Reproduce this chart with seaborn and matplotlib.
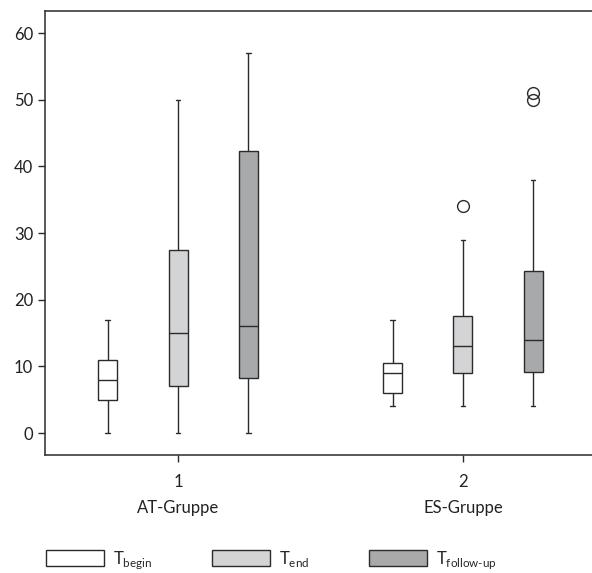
import numpy as np
import pandas as pd
import matplotlib
matplotlib.use("Agg")
import matplotlib.pyplot as plt
import seaborn as sns

# ---- data (box statistics) ----
groups = ["1\nAT-Gruppe", "2\nES-Gruppe"]
times = [r"T$_{\mathregular{begin}}$", r"T$_{\mathregular{end}}$",
         r"T$_{\mathregular{follow\text{-}up}}$"]

# per group, per time: [whisker_low, q1, median, q3, whisker_high]
at_begin = [0, 5, 8, 11, 17]
at_end = [0, 7, 15, 27.5, 50]
at_follow = [0, 8.2, 16, 42.3, 57]
es_begin = [4, 6, 9, 10.5, 17]
es_end = [4, 9, 13, 17.5, 29]
es_follow = [4, 9.2, 14, 24.3, 38]
at_begin_out, at_end_out, at_follow_out = [], [], []
es_begin_out, es_end_out, es_follow_out = [], [34], [50, 51]

colors = ["#ffffff", "#d3d4d6", "#a7a9ac"]
edge = "#2b2b2b"


def sample(stats, outliers):
    """Observations whose box statistics equal the values read above."""
    lo, q1, med, q3, hi = stats
    k = len(outliers)
    m = k + 1
    vals = [lo] + [q1] * m + [med] * m + [q3] * m + [hi] * (m - k) + list(outliers)
    return vals


rows = []
table = [
    (groups[0], times[0], at_begin, at_begin_out),
    (groups[0], times[1], at_end, at_end_out),
    (groups[0], times[2], at_follow, at_follow_out),
    (groups[1], times[0], es_begin, es_begin_out),
    (groups[1], times[1], es_end, es_end_out),
    (groups[1], times[2], es_follow, es_follow_out),
]
for g, t, st, out in table:
    for v in sample(st, out):
        rows.append({"group": g, "time": t, "value": v})
df = pd.DataFrame(rows)

sns.set_style("ticks")
plt.rcParams["font.family"] = ["Lato", "DejaVu Sans"]
plt.rcParams["mathtext.fontset"] = "custom"
plt.rcParams["mathtext.rm"] = "Lato"

fig = plt.figure(figsize=(5.92, 5.73), dpi=100)
ax = fig.add_axes([45 / 592, 1 - 455 / 573, 1 - 45 / 592, (455 - 11) / 573])

sns.boxplot(
    data=df, x="group", y="value", hue="time", order=groups, hue_order=times,
    palette=colors, width=0.74, gap=0.73, linecolor=edge, linewidth=1.0,
    whis=1.5, ax=ax,
    flierprops=dict(marker="o", markersize=8.5, markerfacecolor="none",
                    markeredgecolor=edge, markeredgewidth=1.0),
)

# shorten the whisker caps
for ln in ax.lines:
    x = np.asarray(ln.get_xdata(), dtype=float)
    y = np.asarray(ln.get_ydata(), dtype=float)
    if len(x) == 2 and y[0] == y[1] and 0 < abs(x[1] - x[0]) < 0.05:
        c = x.mean()
        ln.set_xdata([c - 0.008, c + 0.008])

ax.set_ylim(-3.3, 63.3)
ax.set_xlim(-0.467, 1.453)
ax.set_yticks([0, 10, 20, 30, 40, 50, 60])
ax.set_xlabel("")
ax.set_ylabel("")
ax.spines["right"].set_visible(False)
for s in ["left", "bottom", "top"]:
    ax.spines[s].set_linewidth(1.1)
    ax.spines[s].set_color(edge)
ax.tick_params(axis="both", labelsize=12, length=5, width=1.0, color=edge,
               labelcolor="#222222")
ax.tick_params(axis="x", pad=9)
for lab in ax.get_xticklabels():
    lab.set_linespacing(1.75)

sns.move_legend(
    ax, "lower left", bbox_to_anchor=(31 / 592, -13 / 573), bbox_transform=fig.transFigure,
    ncol=3, frameon=False, title=None, fontsize=12,
    handlelength=3.5, handleheight=1.1, handletextpad=0.5, columnspacing=3.6,
)

fig.savefig("out.png", dpi=100)
